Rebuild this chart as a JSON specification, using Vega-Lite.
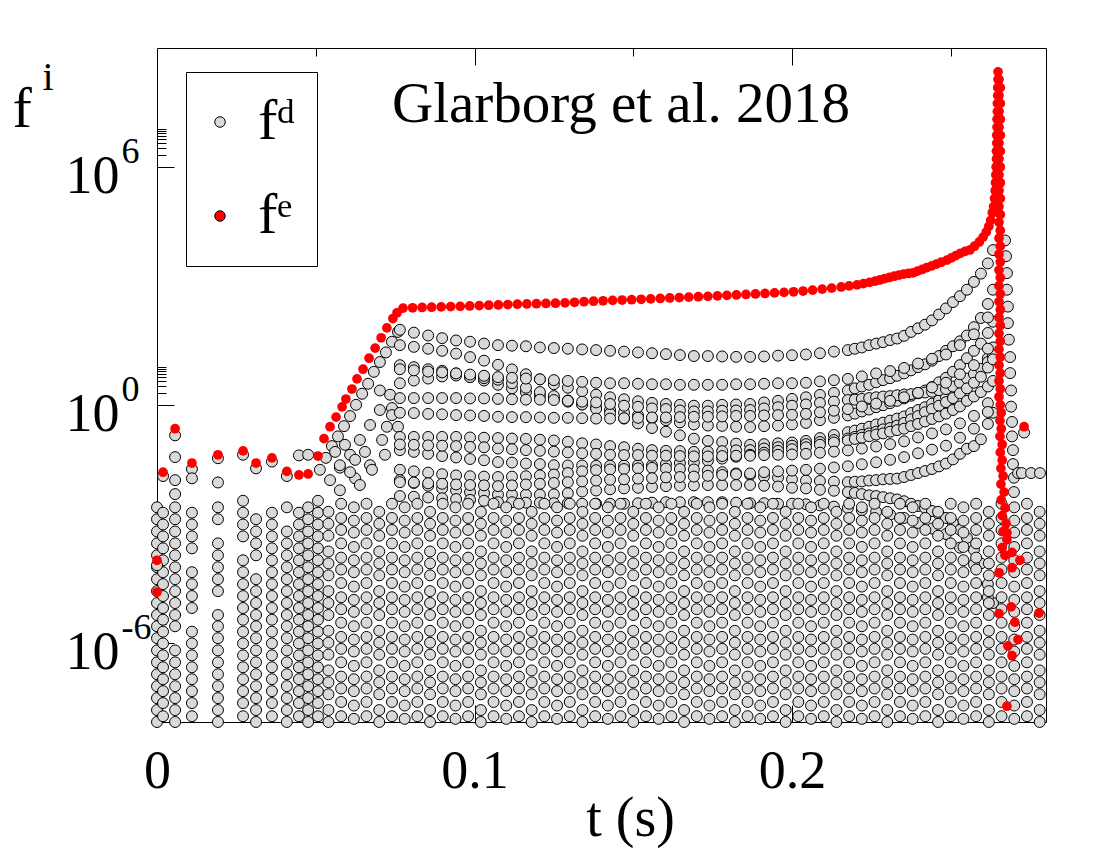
{
"$schema":"https://vega.github.io/schema/vega-lite/v6.json",
"autosize":"none",
"padding":{"left":157,"top":48,"right":54,"bottom":128},
"width":889,
"height":674,
"background":"white",
"config":{"view":{"stroke":"black","strokeWidth":1},"font":"Liberation Serif"},
"title":{"text":"Glarborg et al. 2018","anchor":"start","orient":"top","frame":"group","offset":0,"dx":235,"dy":131,"baseline":"alphabetic","fontSize":57,"fontWeight":"normal","font":"Liberation Serif","color":"black"},
"datasets":{
"e":[
{"t":0,"f":1.2e-4},{"t":0,"f":1.9e-5},{"t":0.0019,"f":0.02},{"t":0.0057,"f":0.25},{"t":0.011,"f":0.034},{"t":0.0192,"f":0.055},{"t":0.0271,"f":0.069},{"t":0.0312,"f":0.034},{"t":0.0362,"f":0.046},{"t":0.0409,"f":0.021},{"t":0.0447,"f":0.017},{"t":0.0476,"f":0.018},{"t":0.0507,"f":0.051},{"t":0.0526,"f":0.14},{"t":0.0545,"f":0.28},{"t":0.0564,"f":0.49},{"t":0.0583,"f":0.89},{"t":0.0595,"f":1.4},{"t":0.0614,"f":2.5},{"t":0.063,"f":4.5},{"t":0.0649,"f":7.9},{"t":0.0668,"f":15},{"t":0.0687,"f":27},{"t":0.0706,"f":49},{"t":0.0724,"f":87},{"t":0.0743,"f":150},{"t":0.0756,"f":210},{"t":0.0775,"f":275},
{"t":0.0805,"f":280},{"t":0.0835,"f":285},{"t":0.0865,"f":290},{"t":0.0895,"f":295},{"t":0.0925,"f":300},{"t":0.0955,"f":305},{"t":0.0985,"f":312},{"t":0.1015,"f":318},{"t":0.1045,"f":325},{"t":0.1075,"f":330},{"t":0.1105,"f":338},{"t":0.1135,"f":345},{"t":0.1165,"f":350},{"t":0.1195,"f":355},{"t":0.1225,"f":360},{"t":0.1255,"f":366},{"t":0.1285,"f":372},{"t":0.1315,"f":385},{"t":0.1345,"f":398},{"t":0.1375,"f":410},{"t":0.1405,"f":420},{"t":0.1435,"f":430},{"t":0.1465,"f":440},{"t":0.1495,"f":447},{"t":0.1525,"f":460},{"t":0.1555,"f":470},{"t":0.1585,"f":482},{"t":0.1615,"f":495},{"t":0.1645,"f":505},{"t":0.1675,"f":520},{"t":0.1705,"f":533},{"t":0.1735,"f":545},{"t":0.1765,"f":560},{"t":0.1795,"f":575},{"t":0.1825,"f":590},{"t":0.1855,"f":608},{"t":0.1885,"f":625},{"t":0.1915,"f":645},{"t":0.1945,"f":665},{"t":0.1975,"f":685},{"t":0.2005,"f":710},{"t":0.2035,"f":740},{"t":0.2065,"f":780},{"t":0.2095,"f":830},{"t":0.2125,"f":880},{"t":0.2155,"f":940},{"t":0.218,"f":1000},{"t":0.2205,"f":1060},{"t":0.2225,"f":1140},{"t":0.2245,"f":1230},{"t":0.2262,"f":1320},{"t":0.2277,"f":1413},{"t":0.2292,"f":1520},{"t":0.2307,"f":1630},{"t":0.2322,"f":1750},{"t":0.2337,"f":1870},{"t":0.2352,"f":1980},{"t":0.2367,"f":2060},{"t":0.2381,"f":2140},{"t":0.2395,"f":2350},{"t":0.241,"f":2600},{"t":0.2425,"f":2900},{"t":0.244,"f":3200},{"t":0.2455,"f":3550},{"t":0.247,"f":3950},{"t":0.2488,"f":4470},{"t":0.2502,"f":5100},{"t":0.2516,"f":5800},{"t":0.253,"f":6600},{"t":0.2545,"f":7400},{"t":0.2561,"f":8130},{"t":0.2575,"f":10000},{"t":0.259,"f":12800},{"t":0.2602,"f":17000},{"t":0.2612,"f":23000},{"t":0.262,"f":32000},{"t":0.2626,"f":45000},{"t":0.2631,"f":70000},{"t":0.2635,"f":100000},{"t":0.2638,"f":160000},{"t":0.264,"f":250000},{"t":0.2641,"f":400000},{"t":0.2642,"f":630000},{"t":0.2643,"f":1e6},{"t":0.2644,"f":1.6e6},{"t":0.2644,"f":2.5e6},{"t":0.2645,"f":4e6},{"t":0.2645,"f":6.3e6},{"t":0.2646,"f":1e7},{"t":0.2646,"f":1.6e7},{"t":0.2647,"f":2.5e7},{"t":0.2647,"f":4e7},{"t":0.2648,"f":6.3e7},{"t":0.2648,"f":1e8},{"t":0.2649,"f":1.6e8},{"t":0.2649,"f":2.5e8},
{"t":0.2652,"f":1.6e8},{"t":0.2656,"f":1e8},{"t":0.2652,"f":6.3e7},{"t":0.2656,"f":4e7},{"t":0.2652,"f":2.5e7},{"t":0.2656,"f":1.6e7},{"t":0.2652,"f":1e7},{"t":0.2656,"f":6.3e6},{"t":0.2652,"f":4e6},{"t":0.2656,"f":2.5e6},{"t":0.2652,"f":1.6e6},{"t":0.2656,"f":1e6},{"t":0.2652,"f":6.3e5},{"t":0.2656,"f":4e5},{"t":0.2652,"f":2.5e5},{"t":0.2656,"f":1.6e5},{"t":0.2652,"f":1e5},{"t":0.2656,"f":6.3e4},{"t":0.2652,"f":4e4},{"t":0.2656,"f":2.5e4},{"t":0.2652,"f":1.6e4},{"t":0.2656,"f":1e4},{"t":0.2652,"f":6300},{"t":0.2656,"f":4000},{"t":0.2652,"f":2500},{"t":0.2656,"f":1600},{"t":0.2652,"f":1000},{"t":0.2656,"f":630},{"t":0.2652,"f":400},{"t":0.2656,"f":250},{"t":0.2652,"f":160},{"t":0.2656,"f":100},{"t":0.2652,"f":63},{"t":0.2656,"f":40},{"t":0.2652,"f":25},{"t":0.2656,"f":16},{"t":0.2652,"f":10},{"t":0.2656,"f":6.3},{"t":0.2652,"f":4},{"t":0.2656,"f":2.5},{"t":0.2652,"f":1.6},{"t":0.2656,"f":1},{"t":0.2659,"f":0.63},{"t":0.2655,"f":0.4},{"t":0.2659,"f":0.25},{"t":0.2655,"f":0.16},{"t":0.2662,"f":0.1},{"t":0.2656,"f":0.063},{"t":0.2662,"f":0.04},{"t":0.2658,"f":0.025},{"t":0.2665,"f":0.016},{"t":0.2658,"f":0.01},{"t":0.2668,"f":0.0063},{"t":0.2659,"f":0.004},{"t":0.2671,"f":0.0025},{"t":0.2662,"f":0.0016},{"t":0.2674,"f":0.001},{"t":0.2665,"f":6.3e-4},{"t":0.2677,"f":4e-4},{"t":0.2662,"f":2.5e-4},{"t":0.2671,"f":1.6e-4},
{"t":0.2677,"f":5.9e-4},{"t":0.2693,"f":1.9e-4},{"t":0.2718,"f":1.2e-4},{"t":0.2693,"f":7.8e-5},{"t":0.2731,"f":0.28},{"t":0.2652,"f":5.8e-5},{"t":0.269,"f":8e-6},{"t":0.2652,"f":5.4e-6},{"t":0.2778,"f":5.6e-6},{"t":0.2702,"f":3.3e-6},{"t":0.2712,"f":1.2e-6},{"t":0.268,"f":8.3e-7},{"t":0.2693,"f":4.7e-7},{"t":0.2677,"f":2.5e-8}
],
"d":[
{"t":0,"f":1e-8},{"t":0,"f":2e-8},{"t":0,"f":4e-8},{"t":0,"f":8e-8},{"t":0,"f":1.6e-7},{"t":0,"f":3.2e-7},{"t":0,"f":6.4e-7},{"t":0,"f":1.3e-6},{"t":0,"f":2.6e-6},{"t":0,"f":5e-6},{"t":0,"f":1e-5},{"t":0,"f":2e-5},{"t":0,"f":4e-5},{"t":0,"f":8e-5},{"t":0,"f":1.6e-4},{"t":0,"f":3.2e-4},{"t":0,"f":6.4e-4},{"t":0,"f":1.3e-3},{"t":0,"f":2.6e-3},
{"t":0.0019,"f":1.4e-8},{"t":0.0019,"f":3e-8},{"t":0.0019,"f":6e-8},{"t":0.0019,"f":1.2e-7},{"t":0.0019,"f":2.4e-7},{"t":0.0019,"f":4.8e-7},{"t":0.0019,"f":9.6e-7},{"t":0.0019,"f":1.9e-6},{"t":0.0019,"f":3.8e-6},{"t":0.0019,"f":7.5e-6},{"t":0.0019,"f":1.5e-5},{"t":0.0019,"f":3e-5},{"t":0.0019,"f":6e-5},{"t":0.0019,"f":1.2e-4},{"t":0.0019,"f":2.4e-4},{"t":0.0019,"f":4.8e-4},{"t":0.0019,"f":9.6e-4},{"t":0.0019,"f":1.9e-3},
{"t":0.0057,"f":1e-8},{"t":0.0057,"f":2e-8},{"t":0.0057,"f":4e-8},{"t":0.0057,"f":8e-8},{"t":0.0057,"f":1.6e-7},{"t":0.0057,"f":3.2e-7},{"t":0.0057,"f":6.4e-7},{"t":0.0057,"f":2.6e-6},{"t":0.0057,"f":5e-6},{"t":0.0057,"f":1e-5},{"t":0.0057,"f":2e-5},{"t":0.0057,"f":4e-5},{"t":0.0057,"f":8e-5},{"t":0.0057,"f":1.6e-4},{"t":0.0057,"f":3.2e-4},{"t":0.0057,"f":6.4e-4},{"t":0.0057,"f":1.3e-3},{"t":0.0057,"f":2.6e-3},
{"t":0.011,"f":1.4e-8},{"t":0.011,"f":3e-8},{"t":0.011,"f":6e-8},{"t":0.011,"f":1.2e-7},{"t":0.011,"f":2.4e-7},{"t":0.011,"f":4.8e-7},{"t":0.011,"f":9.6e-7},{"t":0.011,"f":1.9e-6},{"t":0.011,"f":7.5e-6},{"t":0.011,"f":1.5e-5},{"t":0.011,"f":3e-5},{"t":0.011,"f":6e-5},{"t":0.011,"f":2.4e-4},{"t":0.011,"f":4.8e-4},{"t":0.011,"f":9.6e-4},{"t":0.011,"f":1.9e-3},
{"t":0.0192,"f":1e-8},{"t":0.0192,"f":2e-8},{"t":0.0192,"f":4e-8},{"t":0.0192,"f":8e-8},{"t":0.0192,"f":1.6e-7},{"t":0.0192,"f":3.2e-7},{"t":0.0192,"f":6.4e-7},{"t":0.0192,"f":1.3e-6},{"t":0.0192,"f":2.6e-6},{"t":0.0192,"f":5e-6},{"t":0.0192,"f":2e-5},{"t":0.0192,"f":4e-5},{"t":0.0192,"f":8e-5},{"t":0.0192,"f":1.6e-4},{"t":0.0192,"f":3.2e-4},{"t":0.0192,"f":1.3e-3},{"t":0.0192,"f":2.6e-3},
{"t":0.0271,"f":1.4e-8},{"t":0.0271,"f":3e-8},{"t":0.0271,"f":6e-8},{"t":0.0271,"f":1.2e-7},{"t":0.0271,"f":2.4e-7},{"t":0.0271,"f":4.8e-7},{"t":0.0271,"f":9.6e-7},{"t":0.0271,"f":1.9e-6},{"t":0.0271,"f":3.8e-6},{"t":0.0271,"f":7.5e-6},{"t":0.0271,"f":1.5e-5},{"t":0.0271,"f":3e-5},{"t":0.0271,"f":6e-5},{"t":0.0271,"f":1.2e-4},{"t":0.0271,"f":4.8e-4},{"t":0.0271,"f":9.6e-4},{"t":0.0271,"f":1.9e-3},{"t":0.0271,"f":3.8e-3},
{"t":0.0312,"f":1e-8},{"t":0.0312,"f":2e-8},{"t":0.0312,"f":4e-8},{"t":0.0312,"f":8e-8},{"t":0.0312,"f":1.6e-7},{"t":0.0312,"f":3.2e-7},{"t":0.0312,"f":6.4e-7},{"t":0.0312,"f":1.3e-6},{"t":0.0312,"f":2.6e-6},{"t":0.0312,"f":5e-6},{"t":0.0312,"f":1e-5},{"t":0.0312,"f":2e-5},{"t":0.0312,"f":4e-5},{"t":0.0312,"f":1.6e-4},{"t":0.0312,"f":3.2e-4},{"t":0.0312,"f":6.4e-4},{"t":0.0312,"f":1.3e-3},
{"t":0.0362,"f":1.4e-8},{"t":0.0362,"f":3e-8},{"t":0.0362,"f":6e-8},{"t":0.0362,"f":1.2e-7},{"t":0.0362,"f":2.4e-7},{"t":0.0362,"f":4.8e-7},{"t":0.0362,"f":9.6e-7},{"t":0.0362,"f":1.9e-6},{"t":0.0362,"f":3.8e-6},{"t":0.0362,"f":7.5e-6},{"t":0.0362,"f":1.5e-5},{"t":0.0362,"f":3e-5},{"t":0.0362,"f":6e-5},{"t":0.0362,"f":1.2e-4},{"t":0.0362,"f":2.4e-4},{"t":0.0362,"f":4.8e-4},{"t":0.0362,"f":9.6e-4},{"t":0.0362,"f":1.9e-3},
{"t":0.0409,"f":1e-8},{"t":0.0409,"f":2e-8},{"t":0.0409,"f":4e-8},{"t":0.0409,"f":8e-8},{"t":0.0409,"f":1.6e-7},{"t":0.0409,"f":3.2e-7},{"t":0.0409,"f":6.4e-7},{"t":0.0409,"f":1.3e-6},{"t":0.0409,"f":2.6e-6},{"t":0.0409,"f":5e-6},{"t":0.0409,"f":1e-5},{"t":0.0409,"f":2e-5},{"t":0.0409,"f":4e-5},{"t":0.0409,"f":8e-5},{"t":0.0409,"f":1.6e-4},{"t":0.0409,"f":3.2e-4},{"t":0.0409,"f":6.4e-4},{"t":0.0409,"f":2.6e-3},
{"t":0.0447,"f":1.4e-8},{"t":0.0447,"f":3e-8},{"t":0.0447,"f":6e-8},{"t":0.0447,"f":1.2e-7},{"t":0.0447,"f":2.4e-7},{"t":0.0447,"f":4.8e-7},{"t":0.0447,"f":9.6e-7},{"t":0.0447,"f":1.9e-6},{"t":0.0447,"f":3.8e-6},{"t":0.0447,"f":7.5e-6},{"t":0.0447,"f":1.5e-5},{"t":0.0447,"f":3e-5},{"t":0.0447,"f":6e-5},{"t":0.0447,"f":1.2e-4},{"t":0.0447,"f":2.4e-4},{"t":0.0447,"f":4.8e-4},{"t":0.0447,"f":9.6e-4},{"t":0.0447,"f":1.9e-3},
{"t":0.0476,"f":1e-8},{"t":0.0476,"f":2e-8},{"t":0.0476,"f":4e-8},{"t":0.0476,"f":8e-8},{"t":0.0476,"f":1.6e-7},{"t":0.0476,"f":3.2e-7},{"t":0.0476,"f":6.4e-7},{"t":0.0476,"f":1.3e-6},{"t":0.0476,"f":2.6e-6},{"t":0.0476,"f":5e-6},{"t":0.0476,"f":1e-5},{"t":0.0476,"f":2e-5},{"t":0.0476,"f":4e-5},{"t":0.0476,"f":8e-5},{"t":0.0476,"f":1.6e-4},{"t":0.0476,"f":3.2e-4},{"t":0.0476,"f":6.4e-4},{"t":0.0476,"f":1.3e-3},{"t":0.0476,"f":2.6e-3},
{"t":0.0507,"f":1.4e-8},{"t":0.0507,"f":3e-8},{"t":0.0507,"f":6e-8},{"t":0.0507,"f":1.2e-7},{"t":0.0507,"f":2.4e-7},{"t":0.0507,"f":4.8e-7},{"t":0.0507,"f":9.6e-7},{"t":0.0507,"f":1.9e-6},{"t":0.0507,"f":3.8e-6},{"t":0.0507,"f":7.5e-6},{"t":0.0507,"f":1.5e-5},{"t":0.0507,"f":3e-5},{"t":0.0507,"f":6e-5},{"t":0.0507,"f":1.2e-4},{"t":0.0507,"f":2.4e-4},{"t":0.0507,"f":4.8e-4},{"t":0.0507,"f":9.6e-4},{"t":0.0507,"f":1.9e-3},{"t":0.0507,"f":3.8e-3},
{"t":0.0057,"f":0.17},{"t":0.0057,"f":0.048},{"t":0.0057,"f":0.0126},{"t":0.0057,"f":0.0056},{"t":0.011,"f":0.024},{"t":0.011,"f":0.014},{"t":0.0192,"f":0.011},{"t":0.0192,"f":0.045},{"t":0.0271,"f":0.055},{"t":0.0312,"f":0.025},{"t":0.0362,"f":0.037},{"t":0.0019,"f":0.016},{"t":0.0447,"f":0.053},{"t":0.0476,"f":0.055},{"t":0.0409,"f":0.016},{"t":0,"f":9e-5},
{"t":0.0513,"f":0.023},{"t":0.0532,"f":0.046},{"t":0.0551,"f":0.091},{"t":0.057,"f":0.16},{"t":0.0589,"f":0.29},{"t":0.0608,"f":0.52},{"t":0.0627,"f":1.0},{"t":0.0646,"f":1.9},{"t":0.0665,"f":3.4},{"t":0.0683,"f":6.8},{"t":0.0702,"f":12},{"t":0.0721,"f":21},{"t":0.074,"f":39},{"t":0.0759,"f":69},
{"t":0.0545,"f":0.0126},{"t":0.0576,"f":0.026},{"t":0.0608,"f":0.055},{"t":0.0639,"f":0.13},{"t":0.0671,"f":0.31},{"t":0.0702,"f":0.74},{"t":0.0734,"f":1.8},
{"t":0.0576,"f":0.007},{"t":0.0624,"f":0.014},{"t":0.0671,"f":0.03},{"t":0.0718,"f":0.055},
{"t":0.0724,"f":0.28},{"t":0.0759,"f":0.28},{"t":0.074,"f":0.83},{"t":0.074,"f":0.55},{"t":0.0702,"f":2.3},
{"t":0.0561,"f":0.065},{"t":0.0592,"f":0.098},{"t":0.0576,"f":0.03},{"t":0.0608,"f":0.02},{"t":0.0624,"f":0.041},{"t":0.0655,"f":0.065},{"t":0.0639,"f":0.0095},{"t":0.0677,"f":0.023},{"t":0.0709,"f":0.13},
{"t":0.0765,"f":78},{"t":0.0809,"f":66},{"t":0.0854,"f":56},{"t":0.0898,"f":48},{"t":0.0942,"f":42},{"t":0.0986,"f":39},{"t":0.103,"f":35},{"t":0.1074,"f":32},{"t":0.1118,"f":31},{"t":0.1162,"f":30},{"t":0.1206,"f":28},{"t":0.125,"f":27},{"t":0.1294,"f":26},{"t":0.1339,"f":25},{"t":0.1383,"f":24},{"t":0.1427,"f":23},{"t":0.1471,"f":22},{"t":0.1515,"f":21},{"t":0.1559,"f":20},{"t":0.1603,"f":19},{"t":0.1647,"f":18},{"t":0.1691,"f":17},{"t":0.1735,"f":17},{"t":0.178,"f":16.6},{"t":0.1824,"f":16.2},{"t":0.1868,"f":16.2},{"t":0.1912,"f":16.6},{"t":0.1956,"f":17.4},{"t":0.2,"f":17.8},{"t":0.2044,"f":18.6},{"t":0.2088,"f":20},{"t":0.2132,"f":22},{"t":0.2176,"f":24},{"t":0.2198,"f":26},{"t":0.222,"f":28},{"t":0.2243,"f":32},{"t":0.2265,"f":35},{"t":0.2287,"f":38},{"t":0.2309,"f":43},{"t":0.2331,"f":47},{"t":0.2353,"f":55},{"t":0.2375,"f":69},{"t":0.2397,"f":85},{"t":0.2419,"f":105},{"t":0.2441,"f":135},{"t":0.2463,"f":190},{"t":0.2485,"f":270},{"t":0.2507,"f":390},{"t":0.2529,"f":550},{"t":0.2551,"f":800},{"t":0.2573,"f":1260},{"t":0.2595,"f":2040},{"t":0.2617,"f":3700},{"t":0.2633,"f":8000},
{"t":0.0765,"f":32},{"t":0.0809,"f":29},{"t":0.0854,"f":26},{"t":0.0898,"f":23},{"t":0.0942,"f":19.5},{"t":0.0986,"f":16},{"t":0.103,"f":13},{"t":0.1074,"f":10.2},{"t":0.1118,"f":7.8},{"t":0.1162,"f":5.9},{"t":0.1206,"f":4.4},{"t":0.125,"f":3.3},{"t":0.1294,"f":2.7},{"t":0.1339,"f":2.2},{"t":0.1383,"f":1.8},{"t":0.1427,"f":1.55},{"t":0.1471,"f":1.38},{"t":0.1515,"f":1.23},{"t":0.1559,"f":1.12},{"t":0.1603,"f":1.05},{"t":0.1647,"f":1.0},{"t":0.1691,"f":0.95},{"t":0.1735,"f":0.95},{"t":0.178,"f":1.0},{"t":0.1824,"f":1.02},{"t":0.1868,"f":1.05},{"t":0.1912,"f":1.15},{"t":0.1956,"f":1.26},{"t":0.2,"f":1.41},{"t":0.2044,"f":1.55},{"t":0.2088,"f":1.78},{"t":0.2132,"f":2.0},{"t":0.2176,"f":2.3},{"t":0.2198,"f":2.6},{"t":0.222,"f":2.9},{"t":0.2243,"f":3.2},{"t":0.2265,"f":3.7},{"t":0.2287,"f":4.2},{"t":0.2309,"f":4.7},{"t":0.2331,"f":5.4},{"t":0.2353,"f":6.2},{"t":0.2375,"f":7.4},{"t":0.2397,"f":8.9},{"t":0.2419,"f":10.5},{"t":0.2441,"f":13},{"t":0.2463,"f":17},{"t":0.2485,"f":23},{"t":0.2507,"f":30},{"t":0.2529,"f":40},{"t":0.2551,"f":56},{"t":0.2573,"f":91},{"t":0.2595,"f":155},{"t":0.2617,"f":350},{"t":0.2633,"f":800},
{"t":0.0765,"f":10},{"t":0.0809,"f":8.9},{"t":0.0854,"f":7.9},{"t":0.0898,"f":7.2},{"t":0.0942,"f":6.2},{"t":0.0986,"f":5.0},{"t":0.103,"f":4.1},{"t":0.1074,"f":3.2},{"t":0.1118,"f":2.6},{"t":0.1162,"f":2.1},{"t":0.1206,"f":1.7},{"t":0.125,"f":1.41},{"t":0.1294,"f":1.2},{"t":0.1339,"f":1.02},{"t":0.1383,"f":0.87},{"t":0.1427,"f":0.74},{"t":0.1471,"f":0.63},{"t":0.1515,"f":0.54},{"t":0.1559,"f":0.46},{"t":0.1603,"f":0.41},{"t":0.1647,"f":0.36},{"t":0.1691,"f":0.32},{"t":0.1735,"f":0.3},{"t":0.178,"f":0.295},{"t":0.1824,"f":0.28},{"t":0.1868,"f":0.275},{"t":0.1912,"f":0.29},{"t":0.1956,"f":0.3},{"t":0.2,"f":0.32},{"t":0.2044,"f":0.35},{"t":0.2088,"f":0.41},{"t":0.2132,"f":0.47},{"t":0.2176,"f":0.54},{"t":0.2198,"f":0.6},{"t":0.222,"f":0.68},{"t":0.2243,"f":0.76},{"t":0.2265,"f":0.87},{"t":0.2287,"f":0.98},{"t":0.2309,"f":1.1},{"t":0.2331,"f":1.26},{"t":0.2353,"f":1.45},{"t":0.2375,"f":1.7},{"t":0.2397,"f":2.0},{"t":0.2419,"f":2.3},{"t":0.2441,"f":2.8},{"t":0.2463,"f":3.7},{"t":0.2485,"f":4.8},{"t":0.2507,"f":6.8},{"t":0.2529,"f":10},{"t":0.2551,"f":15},{"t":0.2573,"f":23},{"t":0.2595,"f":35},{"t":0.2617,"f":65},{"t":0.2633,"f":125},
{"t":0.0765,"f":3.5},{"t":0.0809,"f":4.1},{"t":0.0854,"f":4.6},{"t":0.0898,"f":5.2},{"t":0.0942,"f":5.5},{"t":0.0986,"f":5.0},{"t":0.103,"f":4.7},{"t":0.1074,"f":4.3},{"t":0.1118,"f":3.5},{"t":0.1162,"f":2.7},{"t":0.1206,"f":2.1},{"t":0.125,"f":1.66},{"t":0.1294,"f":1.29},{"t":0.1339,"f":1.02},{"t":0.1383,"f":0.79},{"t":0.1427,"f":0.6},{"t":0.1471,"f":0.45},{"t":0.1515,"f":0.34},{"t":0.1559,"f":0.26},{"t":0.1603,"f":0.21},{"t":0.1647,"f":0.17},{"t":0.1691,"f":0.14},{"t":0.1735,"f":0.123},{"t":0.178,"f":0.115},{"t":0.1824,"f":0.105},{"t":0.1868,"f":0.098},{"t":0.1912,"f":0.102},{"t":0.1956,"f":0.107},{"t":0.2,"f":0.112},{"t":0.2044,"f":0.123},{"t":0.2088,"f":0.145},{"t":0.2132,"f":0.174},{"t":0.2176,"f":0.204},{"t":0.2198,"f":0.224},{"t":0.222,"f":0.25},{"t":0.2243,"f":0.28},{"t":0.2265,"f":0.32},{"t":0.2287,"f":0.355},{"t":0.2309,"f":0.4},{"t":0.2331,"f":0.45},{"t":0.2353,"f":0.51},{"t":0.2375,"f":0.62},{"t":0.2397,"f":0.74},{"t":0.2419,"f":0.87},{"t":0.2441,"f":1.07},{"t":0.2463,"f":1.3},{"t":0.2485,"f":1.6},{"t":0.2507,"f":2.0},{"t":0.2529,"f":2.6},{"t":0.2551,"f":3.5},{"t":0.2573,"f":5.0},{"t":0.2595,"f":7.4},{"t":0.2617,"f":15},{"t":0.2633,"f":28},
{"t":0.0765,"f":1.48},{"t":0.0809,"f":1.48},{"t":0.0854,"f":1.48},{"t":0.0898,"f":1.48},{"t":0.0942,"f":1.48},{"t":0.0986,"f":1.45},{"t":0.103,"f":1.45},{"t":0.1074,"f":1.41},{"t":0.1118,"f":1.38},{"t":0.1162,"f":1.35},{"t":0.1206,"f":1.35},{"t":0.125,"f":1.32},{"t":0.1294,"f":1.26},{"t":0.1339,"f":1.2},{"t":0.1383,"f":1.15},{"t":0.1427,"f":1.05},{"t":0.1471,"f":0.95},{"t":0.1515,"f":0.89},{"t":0.1559,"f":0.81},{"t":0.1603,"f":0.78},{"t":0.1647,"f":0.72},{"t":0.1691,"f":0.68},{"t":0.1735,"f":0.68},{"t":0.178,"f":0.71},{"t":0.1824,"f":0.72},{"t":0.1868,"f":0.74},{"t":0.1912,"f":0.81},{"t":0.1956,"f":0.87},{"t":0.2,"f":0.95},{"t":0.2044,"f":1.02},{"t":0.2088,"f":1.12},{"t":0.2132,"f":1.2},{"t":0.2176,"f":1.32},{"t":0.2198,"f":1.35},{"t":0.222,"f":1.41},{"t":0.2243,"f":1.48},{"t":0.2265,"f":1.55},{"t":0.2287,"f":1.62},{"t":0.2309,"f":1.66},{"t":0.2331,"f":1.74},{"t":0.2353,"f":1.82},{"t":0.2375,"f":1.86},{"t":0.2397,"f":1.95},{"t":0.2419,"f":2.04},{"t":0.2441,"f":2.14},{"t":0.2463,"f":2.34},{"t":0.2485,"f":2.5},{"t":0.2507,"f":2.9},{"t":0.2529,"f":3.6},{"t":0.2551,"f":4.6},{"t":0.2573,"f":6.0},{"t":0.2595,"f":8.1},{"t":0.2617,"f":12},{"t":0.2633,"f":18},
{"t":0.0765,"f":0.155},{"t":0.0809,"f":0.155},{"t":0.0854,"f":0.155},{"t":0.0898,"f":0.155},{"t":0.0942,"f":0.155},{"t":0.0986,"f":0.15},{"t":0.103,"f":0.148},{"t":0.1074,"f":0.145},{"t":0.1118,"f":0.141},{"t":0.1162,"f":0.138},{"t":0.1206,"f":0.132},{"t":0.125,"f":0.126},{"t":0.1294,"f":0.117},{"t":0.1339,"f":0.107},{"t":0.1383,"f":0.1},{"t":0.1427,"f":0.091},{"t":0.1471,"f":0.085},{"t":0.1515,"f":0.078},{"t":0.1559,"f":0.072},{"t":0.1603,"f":0.069},{"t":0.1647,"f":0.068},{"t":0.1691,"f":0.065},{"t":0.1735,"f":0.066},{"t":0.178,"f":0.068},{"t":0.1824,"f":0.071},{"t":0.1868,"f":0.072},{"t":0.1912,"f":0.079},{"t":0.1956,"f":0.085},{"t":0.2,"f":0.093},{"t":0.2044,"f":0.102},{"t":0.2088,"f":0.115},{"t":0.2132,"f":0.129},{"t":0.2176,"f":0.141},{"t":0.2198,"f":0.155},{"t":0.222,"f":0.174},{"t":0.2243,"f":0.19},{"t":0.2265,"f":0.21},{"t":0.2287,"f":0.24},{"t":0.2309,"f":0.26},{"t":0.2331,"f":0.3},{"t":0.2353,"f":0.35},{"t":0.2375,"f":0.43},{"t":0.2397,"f":0.52},{"t":0.2419,"f":0.65},{"t":0.2441,"f":0.78},{"t":0.2463,"f":0.95},{"t":0.2485,"f":1.17},{"t":0.2507,"f":1.48},{"t":0.2529,"f":1.95},{"t":0.2551,"f":2.6},{"t":0.2573,"f":3.6},{"t":0.2595,"f":5.1},{"t":0.2617,"f":8.7},{"t":0.2633,"f":14},
{"t":0.0765,"f":0.072},{"t":0.0809,"f":0.065},{"t":0.0854,"f":0.058},{"t":0.0898,"f":0.051},{"t":0.0942,"f":0.047},{"t":0.0986,"f":0.043},{"t":0.103,"f":0.04},{"t":0.1074,"f":0.036},{"t":0.1118,"f":0.035},{"t":0.1162,"f":0.033},{"t":0.1206,"f":0.032},{"t":0.125,"f":0.03},{"t":0.1294,"f":0.0295},{"t":0.1339,"f":0.0295},{"t":0.1383,"f":0.029},{"t":0.1427,"f":0.029},{"t":0.1471,"f":0.0295},{"t":0.1515,"f":0.03},{"t":0.1559,"f":0.03},{"t":0.1603,"f":0.032},{"t":0.1647,"f":0.034},{"t":0.1691,"f":0.035},{"t":0.1735,"f":0.039},{"t":0.178,"f":0.044},{"t":0.1824,"f":0.049},{"t":0.1868,"f":0.055},{"t":0.1912,"f":0.062},{"t":0.1956,"f":0.069},{"t":0.2,"f":0.076},{"t":0.2044,"f":0.085},{"t":0.2088,"f":0.098},{"t":0.2132,"f":0.112},{"t":0.2176,"f":0.126},{"t":0.2198,"f":0.138},{"t":0.222,"f":0.148},{"t":0.2243,"f":0.162},{"t":0.2265,"f":0.178},{"t":0.2287,"f":0.19},{"t":0.2309,"f":0.21},{"t":0.2331,"f":0.23},{"t":0.2353,"f":0.25},{"t":0.2375,"f":0.29},{"t":0.2397,"f":0.33},{"t":0.2419,"f":0.38},{"t":0.2441,"f":0.44},{"t":0.2463,"f":0.51},{"t":0.2485,"f":0.6},{"t":0.2507,"f":0.74},{"t":0.2529,"f":0.91},{"t":0.2551,"f":1.26},{"t":0.2573,"f":1.62},{"t":0.2595,"f":2.1},{"t":0.2617,"f":2.9},{"t":0.2633,"f":4.0},
{"t":0.0765,"f":0.023},{"t":0.0809,"f":0.021},{"t":0.0854,"f":0.0195},{"t":0.0898,"f":0.0178},{"t":0.0942,"f":0.0166},{"t":0.0986,"f":0.0158},{"t":0.103,"f":0.0155},{"t":0.1074,"f":0.0151},{"t":0.1118,"f":0.0155},{"t":0.1162,"f":0.0158},{"t":0.1206,"f":0.0166},{"t":0.125,"f":0.0174},{"t":0.1294,"f":0.019},{"t":0.1339,"f":0.021},{"t":0.1383,"f":0.0224},{"t":0.1427,"f":0.0234},{"t":0.1471,"f":0.024},{"t":0.1515,"f":0.025},{"t":0.1559,"f":0.0257},{"t":0.1603,"f":0.0245},{"t":0.1647,"f":0.024},{"t":0.1691,"f":0.0234},{"t":0.1735,"f":0.0219},{"t":0.178,"f":0.02},{"t":0.1824,"f":0.0186},{"t":0.1868,"f":0.017},{"t":0.1912,"f":0.0155},{"t":0.1956,"f":0.0145},{"t":0.2,"f":0.0132},{"t":0.2044,"f":0.0123},{"t":0.2088,"f":0.012},{"t":0.2132,"f":0.0115},{"t":0.2176,"f":0.0112},{"t":0.2198,"f":0.0115},{"t":0.222,"f":0.0117},{"t":0.2243,"f":0.0123},{"t":0.2265,"f":0.0126},{"t":0.2287,"f":0.0132},{"t":0.2309,"f":0.0135},{"t":0.2331,"f":0.0138},{"t":0.2353,"f":0.0151},{"t":0.2375,"f":0.017},{"t":0.2397,"f":0.019},{"t":0.2419,"f":0.0214},{"t":0.2441,"f":0.024},{"t":0.2463,"f":0.028},{"t":0.2485,"f":0.033},{"t":0.2507,"f":0.042},{"t":0.2529,"f":0.058},{"t":0.2551,"f":0.078},{"t":0.2573,"f":0.091},{"t":0.2595,"f":0.135},{"t":0.2617,"f":0.33},{"t":0.2633,"f":0.63},
{"t":0.0765,"f":0.0126},{"t":0.0809,"f":0.0107},{"t":0.0854,"f":0.0091},{"t":0.0898,"f":0.0078},{"t":0.0942,"f":0.0069},{"t":0.0986,"f":0.0063},{"t":0.103,"f":0.0059},{"t":0.1074,"f":0.0054},{"t":0.1118,"f":0.0054},{"t":0.1162,"f":0.0054},{"t":0.1206,"f":0.0054},{"t":0.125,"f":0.0055},{"t":0.1294,"f":0.0059},{"t":0.1339,"f":0.0065},{"t":0.1383,"f":0.0069},{"t":0.1427,"f":0.0074},{"t":0.1471,"f":0.0078},{"t":0.1515,"f":0.0081},{"t":0.1559,"f":0.0085},{"t":0.1603,"f":0.0089},{"t":0.1647,"f":0.0091},{"t":0.1691,"f":0.0093},{"t":0.1735,"f":0.0095},{"t":0.178,"f":0.0095},{"t":0.1824,"f":0.0095},{"t":0.1868,"f":0.0095},{"t":0.1912,"f":0.0091},{"t":0.1956,"f":0.0087},{"t":0.2,"f":0.0081},{"t":0.2044,"f":0.0078},{"t":0.2088,"f":0.0072},{"t":0.2132,"f":0.0068},{"t":0.2176,"f":0.0063},{"t":0.2198,"f":0.006},{"t":0.222,"f":0.0056},{"t":0.2243,"f":0.0052},{"t":0.2265,"f":0.005},{"t":0.2287,"f":0.0047},{"t":0.2309,"f":0.0044},{"t":0.2331,"f":0.0041},{"t":0.2353,"f":0.0037},{"t":0.2375,"f":0.0032},{"t":0.2397,"f":0.0028},{"t":0.2419,"f":0.0025},{"t":0.2441,"f":0.0021},{"t":0.2463,"f":0.0017},{"t":0.2485,"f":0.0014},{"t":0.2507,"f":0.00105},{"t":0.2529,"f":7e-4},{"t":0.2551,"f":4.4e-4},{"t":0.2573,"f":2.2e-4},{"t":0.2595,"f":1e-4},{"t":0.2617,"f":3e-5},{"t":0.2633,"f":1e-5},
{"t":0.0765,"f":7.9},{"t":0.0809,"f":7.4},{"t":0.0854,"f":6.9},{"t":0.0898,"f":6.6},{"t":0.0942,"f":6.2},{"t":0.0986,"f":5.8},{"t":0.103,"f":5.4},{"t":0.1074,"f":5.0},{"t":0.1118,"f":4.8},{"t":0.1162,"f":4.6},{"t":0.1206,"f":4.4},{"t":0.125,"f":4.2},{"t":0.1294,"f":4.0},{"t":0.1339,"f":3.8},{"t":0.1383,"f":3.6},{"t":0.1427,"f":3.5},{"t":0.1471,"f":3.5},{"t":0.1515,"f":3.4},{"t":0.1559,"f":3.3},{"t":0.1603,"f":3.3},{"t":0.1647,"f":3.2},{"t":0.1691,"f":3.2},{"t":0.1735,"f":3.2},{"t":0.178,"f":3.2},{"t":0.1824,"f":3.3},{"t":0.1868,"f":3.3},{"t":0.1912,"f":3.4},{"t":0.1956,"f":3.5},{"t":0.2,"f":3.5},{"t":0.2044,"f":3.6},{"t":0.2088,"f":3.9},{"t":0.2132,"f":4.2},{"t":0.2176,"f":4.5},{"t":0.222,"f":5.2},{"t":0.2265,"f":6.2},{"t":0.2309,"f":7.1},{"t":0.2353,"f":8.5},{"t":0.2397,"f":11},{"t":0.2441,"f":14.5},{"t":0.2485,"f":18.6},{"t":0.2529,"f":32},{"t":0.2573,"f":60},{"t":0.2617,"f":160},
{"t":0.0765,"f":0.63},{"t":0.0809,"f":0.62},{"t":0.0854,"f":0.59},{"t":0.0898,"f":0.575},{"t":0.0942,"f":0.55},{"t":0.0986,"f":0.54},{"t":0.103,"f":0.525},{"t":0.1074,"f":0.5},{"t":0.1118,"f":0.49},{"t":0.1162,"f":0.49},{"t":0.1206,"f":0.48},{"t":0.125,"f":0.47},{"t":0.1294,"f":0.47},{"t":0.1339,"f":0.46},{"t":0.1383,"f":0.45},{"t":0.1427,"f":0.45},{"t":0.1471,"f":0.46},{"t":0.1515,"f":0.47},{"t":0.1559,"f":0.48},{"t":0.1603,"f":0.48},{"t":0.1647,"f":0.49},{"t":0.1691,"f":0.5},{"t":0.1735,"f":0.5},{"t":0.178,"f":0.51},{"t":0.1824,"f":0.525},{"t":0.1868,"f":0.525},{"t":0.1912,"f":0.54},{"t":0.1956,"f":0.55},{"t":0.2,"f":0.56},{"t":0.2044,"f":0.59},{"t":0.2088,"f":0.65},{"t":0.2132,"f":0.71},{"t":0.2176,"f":0.78},{"t":0.222,"f":0.91},{"t":0.2265,"f":1.07},{"t":0.2309,"f":1.26},{"t":0.2353,"f":1.55},{"t":0.2397,"f":2.0},{"t":0.2441,"f":2.75},{"t":0.2485,"f":3.6},{"t":0.2529,"f":5.9},{"t":0.2573,"f":10},{"t":0.2617,"f":26},
{"t":0.0765,"f":0.1},{"t":0.0809,"f":0.098},{"t":0.0854,"f":0.095},{"t":0.0898,"f":0.093},{"t":0.0942,"f":0.091},{"t":0.0986,"f":0.087},{"t":0.103,"f":0.085},{"t":0.1074,"f":0.079},{"t":0.1118,"f":0.076},{"t":0.1162,"f":0.072},{"t":0.1206,"f":0.069},{"t":0.125,"f":0.066},{"t":0.1294,"f":0.063},{"t":0.1339,"f":0.06},{"t":0.1383,"f":0.058},{"t":0.1427,"f":0.055},{"t":0.1471,"f":0.054},{"t":0.1515,"f":0.054},{"t":0.1559,"f":0.052},{"t":0.1603,"f":0.052},{"t":0.1647,"f":0.051},{"t":0.1691,"f":0.05},{"t":0.1735,"f":0.05},{"t":0.178,"f":0.051},{"t":0.1824,"f":0.052},{"t":0.1868,"f":0.052},{"t":0.1912,"f":0.054},{"t":0.1956,"f":0.055},{"t":0.2,"f":0.056},{"t":0.2044,"f":0.058},{"t":0.2088,"f":0.062},{"t":0.2132,"f":0.066},{"t":0.2176,"f":0.071},{"t":0.222,"f":0.079},{"t":0.2265,"f":0.089},{"t":0.2309,"f":0.102},{"t":0.2353,"f":0.12},{"t":0.2397,"f":0.15},{"t":0.2441,"f":0.19},{"t":0.2485,"f":0.24},{"t":0.2529,"f":0.34},{"t":0.2573,"f":0.525},{"t":0.2617,"f":1.1},
{"t":0.0765,"f":0.005},{"t":0.0809,"f":0.0048},{"t":0.0854,"f":0.0046},{"t":0.0898,"f":0.0044},{"t":0.0942,"f":0.0042},{"t":0.0986,"f":0.004},{"t":0.103,"f":0.0038},{"t":0.1074,"f":0.0035},{"t":0.1118,"f":0.0035},{"t":0.1162,"f":0.0034},{"t":0.1206,"f":0.0034},{"t":0.125,"f":0.0033},{"t":0.1294,"f":0.0033},{"t":0.1339,"f":0.0032},{"t":0.1383,"f":0.0032},{"t":0.1427,"f":0.0032},{"t":0.1471,"f":0.0032},{"t":0.1515,"f":0.0033},{"t":0.1559,"f":0.0034},{"t":0.1603,"f":0.0035},{"t":0.1647,"f":0.0035},{"t":0.1691,"f":0.0035},{"t":0.1735,"f":0.0035},{"t":0.178,"f":0.0035},{"t":0.1824,"f":0.0034},{"t":0.1868,"f":0.0033},{"t":0.1912,"f":0.0033},{"t":0.1956,"f":0.0032},{"t":0.2,"f":0.0032},{"t":0.2044,"f":0.0031},{"t":0.2088,"f":0.0029},{"t":0.2132,"f":0.0027},{"t":0.2176,"f":0.0025},{"t":0.222,"f":0.0022},{"t":0.2265,"f":0.002},{"t":0.2309,"f":0.0017},{"t":0.2353,"f":0.0014},{"t":0.2397,"f":0.00105},{"t":0.2441,"f":7.6e-4},{"t":0.2485,"f":5.5e-4},{"t":0.2529,"f":2.5e-4},{"t":0.2573,"f":9.5e-5},{"t":0.2617,"f":1.4e-5},
{"t":0.0765,"f":0.0112},{"t":0.0809,"f":0.011},{"t":0.0854,"f":0.0105},{"t":0.0898,"f":0.0102},{"t":0.0942,"f":0.0098},{"t":0.0986,"f":0.0095},{"t":0.103,"f":0.0093},{"t":0.1074,"f":0.0089},{"t":0.1118,"f":0.0093},{"t":0.1162,"f":0.0098},{"t":0.1206,"f":0.0102},{"t":0.125,"f":0.0107},{"t":0.1294,"f":0.0112},{"t":0.1339,"f":0.0117},{"t":0.1383,"f":0.0123},{"t":0.1427,"f":0.0129},{"t":0.1471,"f":0.0132},{"t":0.1515,"f":0.0138},{"t":0.1559,"f":0.0141},{"t":0.1603,"f":0.0148},{"t":0.1647,"f":0.0151},{"t":0.1691,"f":0.0155},{"t":0.1735,"f":0.0162},{"t":0.178,"f":0.017},{"t":0.1824,"f":0.0178},{"t":0.1868,"f":0.0186},{"t":0.1912,"f":0.02},{"t":0.1956,"f":0.021},{"t":0.2,"f":0.0219},{"t":0.2044,"f":0.0229},{"t":0.2088,"f":0.0245},{"t":0.2132,"f":0.0263},{"t":0.2176,"f":0.0282},{"t":0.222,"f":0.0316},{"t":0.2265,"f":0.0355},{"t":0.2309,"f":0.041},{"t":0.2353,"f":0.048},{"t":0.2397,"f":0.06},{"t":0.2441,"f":0.074},{"t":0.2485,"f":0.093},{"t":0.2529,"f":0.148},{"t":0.2573,"f":0.25},{"t":0.2617,"f":0.66},
{"t":0.2671,"f":14000},{"t":0.2674,"f":5600},{"t":0.2677,"f":2100},{"t":0.2677,"f":800},{"t":0.268,"f":300},{"t":0.268,"f":115},{"t":0.2683,"f":44},{"t":0.2687,"f":16},{"t":0.2687,"f":6.3},{"t":0.269,"f":2.3},{"t":0.269,"f":0.9},{"t":0.2693,"f":0.37},{"t":0.2693,"f":0.16},{"t":0.2696,"f":0.072},{"t":0.2696,"f":0.032},{"t":0.2699,"f":0.0145},{"t":0.2699,"f":0.0063},{"t":0.2712,"f":0.019},{"t":0.2724,"f":0.019},{"t":0.2753,"f":0.019},{"t":0.2781,"f":0.019},{"t":0.2731,"f":0.2},
{"t":0.054,"f":1e-8},{"t":0.054,"f":2e-8},{"t":0.054,"f":5e-8},{"t":0.054,"f":1e-7},{"t":0.054,"f":2e-7},{"t":0.054,"f":5e-7},{"t":0.054,"f":1e-6},{"t":0.054,"f":2e-6},{"t":0.054,"f":5e-6},{"t":0.054,"f":1e-5},{"t":0.054,"f":2e-5},{"t":0.054,"f":5e-5},{"t":0.054,"f":1e-4},{"t":0.054,"f":2e-4},{"t":0.054,"f":5e-4},{"t":0.054,"f":1e-3},{"t":0.054,"f":2e-3},
{"t":0.058,"f":1.4e-8},{"t":0.058,"f":3.2e-8},{"t":0.058,"f":7e-8},{"t":0.058,"f":1.4e-7},{"t":0.058,"f":3.2e-7},{"t":0.058,"f":7e-7},{"t":0.058,"f":1.4e-6},{"t":0.058,"f":3.2e-6},{"t":0.058,"f":7e-6},{"t":0.058,"f":1.4e-5},{"t":0.058,"f":3.2e-5},{"t":0.058,"f":7e-5},{"t":0.058,"f":1.4e-4},{"t":0.058,"f":3.2e-4},{"t":0.058,"f":7e-4},{"t":0.058,"f":1.4e-3},{"t":0.058,"f":3.2e-3},
{"t":0.062,"f":1.2e-8},{"t":0.062,"f":2.6e-8},{"t":0.062,"f":6e-8},{"t":0.062,"f":1.2e-7},{"t":0.062,"f":2.6e-7},{"t":0.062,"f":6e-7},{"t":0.062,"f":1.2e-6},{"t":0.062,"f":2.6e-6},{"t":0.062,"f":6e-6},{"t":0.062,"f":1.2e-5},{"t":0.062,"f":2.6e-5},{"t":0.062,"f":6e-5},{"t":0.062,"f":1.2e-4},{"t":0.062,"f":2.6e-4},{"t":0.062,"f":6e-4},{"t":0.062,"f":1.2e-3},{"t":0.062,"f":2.6e-3},
{"t":0.066,"f":1.4e-8},{"t":0.066,"f":3.2e-8},{"t":0.066,"f":7e-8},{"t":0.066,"f":1.4e-7},{"t":0.066,"f":3.2e-7},{"t":0.066,"f":7e-7},{"t":0.066,"f":1.4e-6},{"t":0.066,"f":3.2e-6},{"t":0.066,"f":7e-6},{"t":0.066,"f":1.4e-5},{"t":0.066,"f":3.2e-5},{"t":0.066,"f":7e-5},{"t":0.066,"f":1.4e-4},{"t":0.066,"f":3.2e-4},{"t":0.066,"f":7e-4},{"t":0.066,"f":1.4e-3},{"t":0.066,"f":3.2e-3},
{"t":0.07,"f":1e-8},{"t":0.07,"f":2e-8},{"t":0.07,"f":5e-8},{"t":0.07,"f":1e-7},{"t":0.07,"f":2e-7},{"t":0.07,"f":5e-7},{"t":0.07,"f":1e-6},{"t":0.07,"f":2e-6},{"t":0.07,"f":5e-6},{"t":0.07,"f":1e-5},{"t":0.07,"f":2e-5},{"t":0.07,"f":5e-5},{"t":0.07,"f":1e-4},{"t":0.07,"f":2e-4},{"t":0.07,"f":5e-4},{"t":0.07,"f":1e-3},{"t":0.07,"f":2e-3},
{"t":0.074,"f":1.4e-8},{"t":0.074,"f":3.2e-8},{"t":0.074,"f":7e-8},{"t":0.074,"f":1.4e-7},{"t":0.074,"f":3.2e-7},{"t":0.074,"f":7e-7},{"t":0.074,"f":1.4e-6},{"t":0.074,"f":3.2e-6},{"t":0.074,"f":7e-6},{"t":0.074,"f":1.4e-5},{"t":0.074,"f":3.2e-5},{"t":0.074,"f":7e-5},{"t":0.074,"f":1.4e-4},{"t":0.074,"f":3.2e-4},{"t":0.074,"f":7e-4},{"t":0.074,"f":1.4e-3},{"t":0.074,"f":3.2e-3},
{"t":0.078,"f":1.2e-8},{"t":0.078,"f":2.6e-8},{"t":0.078,"f":6e-8},{"t":0.078,"f":1.2e-7},{"t":0.078,"f":2.6e-7},{"t":0.078,"f":6e-7},{"t":0.078,"f":1.2e-6},{"t":0.078,"f":2.6e-6},{"t":0.078,"f":6e-6},{"t":0.078,"f":1.2e-5},{"t":0.078,"f":2.6e-5},{"t":0.078,"f":6e-5},{"t":0.078,"f":1.2e-4},{"t":0.078,"f":2.6e-4},{"t":0.078,"f":6e-4},{"t":0.078,"f":1.2e-3},{"t":0.078,"f":2.6e-3},
{"t":0.082,"f":1.4e-8},{"t":0.082,"f":3.2e-8},{"t":0.082,"f":7e-8},{"t":0.082,"f":1.4e-7},{"t":0.082,"f":3.2e-7},{"t":0.082,"f":7e-7},{"t":0.082,"f":1.4e-6},{"t":0.082,"f":3.2e-6},{"t":0.082,"f":7e-6},{"t":0.082,"f":1.4e-5},{"t":0.082,"f":3.2e-5},{"t":0.082,"f":7e-5},{"t":0.082,"f":1.4e-4},{"t":0.082,"f":3.2e-4},{"t":0.082,"f":7e-4},{"t":0.082,"f":1.4e-3},{"t":0.082,"f":3.2e-3},
{"t":0.086,"f":1e-8},{"t":0.086,"f":2e-8},{"t":0.086,"f":5e-8},{"t":0.086,"f":1e-7},{"t":0.086,"f":2e-7},{"t":0.086,"f":5e-7},{"t":0.086,"f":1e-6},{"t":0.086,"f":2e-6},{"t":0.086,"f":5e-6},{"t":0.086,"f":1e-5},{"t":0.086,"f":2e-5},{"t":0.086,"f":5e-5},{"t":0.086,"f":1e-4},{"t":0.086,"f":2e-4},{"t":0.086,"f":5e-4},{"t":0.086,"f":1e-3},{"t":0.086,"f":2e-3},
{"t":0.09,"f":1.4e-8},{"t":0.09,"f":3.2e-8},{"t":0.09,"f":7e-8},{"t":0.09,"f":1.4e-7},{"t":0.09,"f":3.2e-7},{"t":0.09,"f":7e-7},{"t":0.09,"f":1.4e-6},{"t":0.09,"f":3.2e-6},{"t":0.09,"f":7e-6},{"t":0.09,"f":1.4e-5},{"t":0.09,"f":3.2e-5},{"t":0.09,"f":7e-5},{"t":0.09,"f":1.4e-4},{"t":0.09,"f":3.2e-4},{"t":0.09,"f":7e-4},{"t":0.09,"f":1.4e-3},{"t":0.09,"f":3.2e-3},
{"t":0.094,"f":1.2e-8},{"t":0.094,"f":2.6e-8},{"t":0.094,"f":6e-8},{"t":0.094,"f":1.2e-7},{"t":0.094,"f":2.6e-7},{"t":0.094,"f":6e-7},{"t":0.094,"f":1.2e-6},{"t":0.094,"f":2.6e-6},{"t":0.094,"f":6e-6},{"t":0.094,"f":1.2e-5},{"t":0.094,"f":2.6e-5},{"t":0.094,"f":6e-5},{"t":0.094,"f":1.2e-4},{"t":0.094,"f":2.6e-4},{"t":0.094,"f":6e-4},{"t":0.094,"f":1.2e-3},{"t":0.094,"f":2.6e-3},
{"t":0.098,"f":1.4e-8},{"t":0.098,"f":3.2e-8},{"t":0.098,"f":7e-8},{"t":0.098,"f":1.4e-7},{"t":0.098,"f":3.2e-7},{"t":0.098,"f":7e-7},{"t":0.098,"f":1.4e-6},{"t":0.098,"f":3.2e-6},{"t":0.098,"f":7e-6},{"t":0.098,"f":1.4e-5},{"t":0.098,"f":3.2e-5},{"t":0.098,"f":7e-5},{"t":0.098,"f":1.4e-4},{"t":0.098,"f":3.2e-4},{"t":0.098,"f":7e-4},{"t":0.098,"f":1.4e-3},{"t":0.098,"f":3.2e-3},
{"t":0.102,"f":1e-8},{"t":0.102,"f":2e-8},{"t":0.102,"f":5e-8},{"t":0.102,"f":1e-7},{"t":0.102,"f":2e-7},{"t":0.102,"f":5e-7},{"t":0.102,"f":1e-6},{"t":0.102,"f":2e-6},{"t":0.102,"f":5e-6},{"t":0.102,"f":1e-5},{"t":0.102,"f":2e-5},{"t":0.102,"f":5e-5},{"t":0.102,"f":1e-4},{"t":0.102,"f":2e-4},{"t":0.102,"f":5e-4},{"t":0.102,"f":1e-3},{"t":0.102,"f":2e-3},
{"t":0.106,"f":1.4e-8},{"t":0.106,"f":3.2e-8},{"t":0.106,"f":7e-8},{"t":0.106,"f":1.4e-7},{"t":0.106,"f":3.2e-7},{"t":0.106,"f":7e-7},{"t":0.106,"f":1.4e-6},{"t":0.106,"f":3.2e-6},{"t":0.106,"f":7e-6},{"t":0.106,"f":1.4e-5},{"t":0.106,"f":3.2e-5},{"t":0.106,"f":7e-5},{"t":0.106,"f":1.4e-4},{"t":0.106,"f":3.2e-4},{"t":0.106,"f":7e-4},{"t":0.106,"f":1.4e-3},{"t":0.106,"f":3.2e-3},
{"t":0.11,"f":1.2e-8},{"t":0.11,"f":2.6e-8},{"t":0.11,"f":6e-8},{"t":0.11,"f":1.2e-7},{"t":0.11,"f":2.6e-7},{"t":0.11,"f":6e-7},{"t":0.11,"f":1.2e-6},{"t":0.11,"f":2.6e-6},{"t":0.11,"f":6e-6},{"t":0.11,"f":1.2e-5},{"t":0.11,"f":2.6e-5},{"t":0.11,"f":6e-5},{"t":0.11,"f":1.2e-4},{"t":0.11,"f":2.6e-4},{"t":0.11,"f":6e-4},{"t":0.11,"f":1.2e-3},{"t":0.11,"f":2.6e-3},
{"t":0.114,"f":1.4e-8},{"t":0.114,"f":3.2e-8},{"t":0.114,"f":7e-8},{"t":0.114,"f":1.4e-7},{"t":0.114,"f":3.2e-7},{"t":0.114,"f":7e-7},{"t":0.114,"f":1.4e-6},{"t":0.114,"f":3.2e-6},{"t":0.114,"f":7e-6},{"t":0.114,"f":1.4e-5},{"t":0.114,"f":3.2e-5},{"t":0.114,"f":7e-5},{"t":0.114,"f":1.4e-4},{"t":0.114,"f":3.2e-4},{"t":0.114,"f":7e-4},{"t":0.114,"f":1.4e-3},{"t":0.114,"f":3.2e-3},
{"t":0.118,"f":1e-8},{"t":0.118,"f":2e-8},{"t":0.118,"f":5e-8},{"t":0.118,"f":1e-7},{"t":0.118,"f":2e-7},{"t":0.118,"f":5e-7},{"t":0.118,"f":1e-6},{"t":0.118,"f":2e-6},{"t":0.118,"f":5e-6},{"t":0.118,"f":1e-5},{"t":0.118,"f":2e-5},{"t":0.118,"f":5e-5},{"t":0.118,"f":1e-4},{"t":0.118,"f":2e-4},{"t":0.118,"f":5e-4},{"t":0.118,"f":1e-3},{"t":0.118,"f":2e-3},
{"t":0.122,"f":1.4e-8},{"t":0.122,"f":3.2e-8},{"t":0.122,"f":7e-8},{"t":0.122,"f":1.4e-7},{"t":0.122,"f":3.2e-7},{"t":0.122,"f":7e-7},{"t":0.122,"f":1.4e-6},{"t":0.122,"f":3.2e-6},{"t":0.122,"f":7e-6},{"t":0.122,"f":1.4e-5},{"t":0.122,"f":3.2e-5},{"t":0.122,"f":7e-5},{"t":0.122,"f":1.4e-4},{"t":0.122,"f":3.2e-4},{"t":0.122,"f":7e-4},{"t":0.122,"f":1.4e-3},{"t":0.122,"f":3.2e-3},
{"t":0.126,"f":1.2e-8},{"t":0.126,"f":2.6e-8},{"t":0.126,"f":6e-8},{"t":0.126,"f":1.2e-7},{"t":0.126,"f":2.6e-7},{"t":0.126,"f":6e-7},{"t":0.126,"f":1.2e-6},{"t":0.126,"f":2.6e-6},{"t":0.126,"f":6e-6},{"t":0.126,"f":1.2e-5},{"t":0.126,"f":2.6e-5},{"t":0.126,"f":6e-5},{"t":0.126,"f":1.2e-4},{"t":0.126,"f":2.6e-4},{"t":0.126,"f":6e-4},{"t":0.126,"f":1.2e-3},{"t":0.126,"f":2.6e-3},
{"t":0.13,"f":1.4e-8},{"t":0.13,"f":3.2e-8},{"t":0.13,"f":7e-8},{"t":0.13,"f":1.4e-7},{"t":0.13,"f":3.2e-7},{"t":0.13,"f":7e-7},{"t":0.13,"f":1.4e-6},{"t":0.13,"f":3.2e-6},{"t":0.13,"f":7e-6},{"t":0.13,"f":1.4e-5},{"t":0.13,"f":3.2e-5},{"t":0.13,"f":7e-5},{"t":0.13,"f":1.4e-4},{"t":0.13,"f":3.2e-4},{"t":0.13,"f":7e-4},{"t":0.13,"f":1.4e-3},{"t":0.13,"f":3.2e-3},
{"t":0.134,"f":1e-8},{"t":0.134,"f":2e-8},{"t":0.134,"f":5e-8},{"t":0.134,"f":1e-7},{"t":0.134,"f":2e-7},{"t":0.134,"f":5e-7},{"t":0.134,"f":1e-6},{"t":0.134,"f":2e-6},{"t":0.134,"f":5e-6},{"t":0.134,"f":1e-5},{"t":0.134,"f":2e-5},{"t":0.134,"f":5e-5},{"t":0.134,"f":1e-4},{"t":0.134,"f":2e-4},{"t":0.134,"f":5e-4},{"t":0.134,"f":1e-3},{"t":0.134,"f":2e-3},
{"t":0.138,"f":1.4e-8},{"t":0.138,"f":3.2e-8},{"t":0.138,"f":7e-8},{"t":0.138,"f":1.4e-7},{"t":0.138,"f":3.2e-7},{"t":0.138,"f":7e-7},{"t":0.138,"f":1.4e-6},{"t":0.138,"f":3.2e-6},{"t":0.138,"f":7e-6},{"t":0.138,"f":1.4e-5},{"t":0.138,"f":3.2e-5},{"t":0.138,"f":7e-5},{"t":0.138,"f":1.4e-4},{"t":0.138,"f":3.2e-4},{"t":0.138,"f":7e-4},{"t":0.138,"f":1.4e-3},{"t":0.138,"f":3.2e-3},
{"t":0.142,"f":1.2e-8},{"t":0.142,"f":2.6e-8},{"t":0.142,"f":6e-8},{"t":0.142,"f":1.2e-7},{"t":0.142,"f":2.6e-7},{"t":0.142,"f":6e-7},{"t":0.142,"f":1.2e-6},{"t":0.142,"f":2.6e-6},{"t":0.142,"f":6e-6},{"t":0.142,"f":1.2e-5},{"t":0.142,"f":2.6e-5},{"t":0.142,"f":6e-5},{"t":0.142,"f":1.2e-4},{"t":0.142,"f":2.6e-4},{"t":0.142,"f":6e-4},{"t":0.142,"f":1.2e-3},{"t":0.142,"f":2.6e-3},
{"t":0.146,"f":1.4e-8},{"t":0.146,"f":3.2e-8},{"t":0.146,"f":7e-8},{"t":0.146,"f":1.4e-7},{"t":0.146,"f":3.2e-7},{"t":0.146,"f":7e-7},{"t":0.146,"f":1.4e-6},{"t":0.146,"f":3.2e-6},{"t":0.146,"f":7e-6},{"t":0.146,"f":1.4e-5},{"t":0.146,"f":3.2e-5},{"t":0.146,"f":7e-5},{"t":0.146,"f":1.4e-4},{"t":0.146,"f":3.2e-4},{"t":0.146,"f":7e-4},{"t":0.146,"f":1.4e-3},{"t":0.146,"f":3.2e-3},
{"t":0.15,"f":1e-8},{"t":0.15,"f":2e-8},{"t":0.15,"f":5e-8},{"t":0.15,"f":1e-7},{"t":0.15,"f":2e-7},{"t":0.15,"f":5e-7},{"t":0.15,"f":1e-6},{"t":0.15,"f":2e-6},{"t":0.15,"f":5e-6},{"t":0.15,"f":1e-5},{"t":0.15,"f":2e-5},{"t":0.15,"f":5e-5},{"t":0.15,"f":1e-4},{"t":0.15,"f":2e-4},{"t":0.15,"f":5e-4},{"t":0.15,"f":1e-3},{"t":0.15,"f":2e-3},
{"t":0.154,"f":1.4e-8},{"t":0.154,"f":3.2e-8},{"t":0.154,"f":7e-8},{"t":0.154,"f":1.4e-7},{"t":0.154,"f":3.2e-7},{"t":0.154,"f":7e-7},{"t":0.154,"f":1.4e-6},{"t":0.154,"f":3.2e-6},{"t":0.154,"f":7e-6},{"t":0.154,"f":1.4e-5},{"t":0.154,"f":3.2e-5},{"t":0.154,"f":7e-5},{"t":0.154,"f":1.4e-4},{"t":0.154,"f":3.2e-4},{"t":0.154,"f":7e-4},{"t":0.154,"f":1.4e-3},{"t":0.154,"f":3.2e-3},
{"t":0.158,"f":1.2e-8},{"t":0.158,"f":2.6e-8},{"t":0.158,"f":6e-8},{"t":0.158,"f":1.2e-7},{"t":0.158,"f":2.6e-7},{"t":0.158,"f":6e-7},{"t":0.158,"f":1.2e-6},{"t":0.158,"f":2.6e-6},{"t":0.158,"f":6e-6},{"t":0.158,"f":1.2e-5},{"t":0.158,"f":2.6e-5},{"t":0.158,"f":6e-5},{"t":0.158,"f":1.2e-4},{"t":0.158,"f":2.6e-4},{"t":0.158,"f":6e-4},{"t":0.158,"f":1.2e-3},{"t":0.158,"f":2.6e-3},
{"t":0.162,"f":1.4e-8},{"t":0.162,"f":3.2e-8},{"t":0.162,"f":7e-8},{"t":0.162,"f":1.4e-7},{"t":0.162,"f":3.2e-7},{"t":0.162,"f":7e-7},{"t":0.162,"f":1.4e-6},{"t":0.162,"f":3.2e-6},{"t":0.162,"f":7e-6},{"t":0.162,"f":1.4e-5},{"t":0.162,"f":3.2e-5},{"t":0.162,"f":7e-5},{"t":0.162,"f":1.4e-4},{"t":0.162,"f":3.2e-4},{"t":0.162,"f":7e-4},{"t":0.162,"f":1.4e-3},{"t":0.162,"f":3.2e-3},
{"t":0.166,"f":1e-8},{"t":0.166,"f":2e-8},{"t":0.166,"f":5e-8},{"t":0.166,"f":1e-7},{"t":0.166,"f":2e-7},{"t":0.166,"f":5e-7},{"t":0.166,"f":1e-6},{"t":0.166,"f":2e-6},{"t":0.166,"f":5e-6},{"t":0.166,"f":1e-5},{"t":0.166,"f":2e-5},{"t":0.166,"f":5e-5},{"t":0.166,"f":1e-4},{"t":0.166,"f":2e-4},{"t":0.166,"f":5e-4},{"t":0.166,"f":1e-3},{"t":0.166,"f":2e-3},
{"t":0.17,"f":1.4e-8},{"t":0.17,"f":3.2e-8},{"t":0.17,"f":7e-8},{"t":0.17,"f":1.4e-7},{"t":0.17,"f":3.2e-7},{"t":0.17,"f":7e-7},{"t":0.17,"f":1.4e-6},{"t":0.17,"f":3.2e-6},{"t":0.17,"f":7e-6},{"t":0.17,"f":1.4e-5},{"t":0.17,"f":3.2e-5},{"t":0.17,"f":7e-5},{"t":0.17,"f":1.4e-4},{"t":0.17,"f":3.2e-4},{"t":0.17,"f":7e-4},{"t":0.17,"f":1.4e-3},{"t":0.17,"f":3.2e-3},
{"t":0.174,"f":1.2e-8},{"t":0.174,"f":2.6e-8},{"t":0.174,"f":6e-8},{"t":0.174,"f":1.2e-7},{"t":0.174,"f":2.6e-7},{"t":0.174,"f":6e-7},{"t":0.174,"f":1.2e-6},{"t":0.174,"f":2.6e-6},{"t":0.174,"f":6e-6},{"t":0.174,"f":1.2e-5},{"t":0.174,"f":2.6e-5},{"t":0.174,"f":6e-5},{"t":0.174,"f":1.2e-4},{"t":0.174,"f":2.6e-4},{"t":0.174,"f":6e-4},{"t":0.174,"f":1.2e-3},{"t":0.174,"f":2.6e-3},
{"t":0.178,"f":1.4e-8},{"t":0.178,"f":3.2e-8},{"t":0.178,"f":7e-8},{"t":0.178,"f":1.4e-7},{"t":0.178,"f":3.2e-7},{"t":0.178,"f":7e-7},{"t":0.178,"f":1.4e-6},{"t":0.178,"f":3.2e-6},{"t":0.178,"f":7e-6},{"t":0.178,"f":1.4e-5},{"t":0.178,"f":3.2e-5},{"t":0.178,"f":7e-5},{"t":0.178,"f":1.4e-4},{"t":0.178,"f":3.2e-4},{"t":0.178,"f":7e-4},{"t":0.178,"f":1.4e-3},{"t":0.178,"f":3.2e-3},
{"t":0.182,"f":1e-8},{"t":0.182,"f":2e-8},{"t":0.182,"f":5e-8},{"t":0.182,"f":1e-7},{"t":0.182,"f":2e-7},{"t":0.182,"f":5e-7},{"t":0.182,"f":1e-6},{"t":0.182,"f":2e-6},{"t":0.182,"f":5e-6},{"t":0.182,"f":1e-5},{"t":0.182,"f":2e-5},{"t":0.182,"f":5e-5},{"t":0.182,"f":1e-4},{"t":0.182,"f":2e-4},{"t":0.182,"f":5e-4},{"t":0.182,"f":1e-3},{"t":0.182,"f":2e-3},
{"t":0.186,"f":1.4e-8},{"t":0.186,"f":3.2e-8},{"t":0.186,"f":7e-8},{"t":0.186,"f":1.4e-7},{"t":0.186,"f":3.2e-7},{"t":0.186,"f":7e-7},{"t":0.186,"f":1.4e-6},{"t":0.186,"f":3.2e-6},{"t":0.186,"f":7e-6},{"t":0.186,"f":1.4e-5},{"t":0.186,"f":3.2e-5},{"t":0.186,"f":7e-5},{"t":0.186,"f":1.4e-4},{"t":0.186,"f":3.2e-4},{"t":0.186,"f":7e-4},{"t":0.186,"f":1.4e-3},{"t":0.186,"f":3.2e-3},
{"t":0.19,"f":1.2e-8},{"t":0.19,"f":2.6e-8},{"t":0.19,"f":6e-8},{"t":0.19,"f":1.2e-7},{"t":0.19,"f":2.6e-7},{"t":0.19,"f":6e-7},{"t":0.19,"f":1.2e-6},{"t":0.19,"f":2.6e-6},{"t":0.19,"f":6e-6},{"t":0.19,"f":1.2e-5},{"t":0.19,"f":2.6e-5},{"t":0.19,"f":6e-5},{"t":0.19,"f":1.2e-4},{"t":0.19,"f":2.6e-4},{"t":0.19,"f":6e-4},{"t":0.19,"f":1.2e-3},{"t":0.19,"f":2.6e-3},
{"t":0.194,"f":1.4e-8},{"t":0.194,"f":3.2e-8},{"t":0.194,"f":7e-8},{"t":0.194,"f":1.4e-7},{"t":0.194,"f":3.2e-7},{"t":0.194,"f":7e-7},{"t":0.194,"f":1.4e-6},{"t":0.194,"f":3.2e-6},{"t":0.194,"f":7e-6},{"t":0.194,"f":1.4e-5},{"t":0.194,"f":3.2e-5},{"t":0.194,"f":7e-5},{"t":0.194,"f":1.4e-4},{"t":0.194,"f":3.2e-4},{"t":0.194,"f":7e-4},{"t":0.194,"f":1.4e-3},{"t":0.194,"f":3.2e-3},
{"t":0.198,"f":1e-8},{"t":0.198,"f":2e-8},{"t":0.198,"f":5e-8},{"t":0.198,"f":1e-7},{"t":0.198,"f":2e-7},{"t":0.198,"f":5e-7},{"t":0.198,"f":1e-6},{"t":0.198,"f":2e-6},{"t":0.198,"f":5e-6},{"t":0.198,"f":1e-5},{"t":0.198,"f":2e-5},{"t":0.198,"f":5e-5},{"t":0.198,"f":1e-4},{"t":0.198,"f":2e-4},{"t":0.198,"f":5e-4},{"t":0.198,"f":1e-3},{"t":0.198,"f":2e-3},
{"t":0.202,"f":1.4e-8},{"t":0.202,"f":3.2e-8},{"t":0.202,"f":7e-8},{"t":0.202,"f":1.4e-7},{"t":0.202,"f":3.2e-7},{"t":0.202,"f":7e-7},{"t":0.202,"f":1.4e-6},{"t":0.202,"f":3.2e-6},{"t":0.202,"f":7e-6},{"t":0.202,"f":1.4e-5},{"t":0.202,"f":3.2e-5},{"t":0.202,"f":7e-5},{"t":0.202,"f":1.4e-4},{"t":0.202,"f":3.2e-4},{"t":0.202,"f":7e-4},{"t":0.202,"f":1.4e-3},{"t":0.202,"f":3.2e-3},
{"t":0.206,"f":1.2e-8},{"t":0.206,"f":2.6e-8},{"t":0.206,"f":6e-8},{"t":0.206,"f":1.2e-7},{"t":0.206,"f":2.6e-7},{"t":0.206,"f":6e-7},{"t":0.206,"f":1.2e-6},{"t":0.206,"f":2.6e-6},{"t":0.206,"f":6e-6},{"t":0.206,"f":1.2e-5},{"t":0.206,"f":2.6e-5},{"t":0.206,"f":6e-5},{"t":0.206,"f":1.2e-4},{"t":0.206,"f":2.6e-4},{"t":0.206,"f":6e-4},{"t":0.206,"f":1.2e-3},{"t":0.206,"f":2.6e-3},
{"t":0.21,"f":1.4e-8},{"t":0.21,"f":3.2e-8},{"t":0.21,"f":7e-8},{"t":0.21,"f":1.4e-7},{"t":0.21,"f":3.2e-7},{"t":0.21,"f":7e-7},{"t":0.21,"f":1.4e-6},{"t":0.21,"f":3.2e-6},{"t":0.21,"f":7e-6},{"t":0.21,"f":1.4e-5},{"t":0.21,"f":3.2e-5},{"t":0.21,"f":7e-5},{"t":0.21,"f":1.4e-4},{"t":0.21,"f":3.2e-4},{"t":0.21,"f":7e-4},{"t":0.21,"f":1.4e-3},{"t":0.21,"f":3.2e-3},
{"t":0.214,"f":1e-8},{"t":0.214,"f":2e-8},{"t":0.214,"f":5e-8},{"t":0.214,"f":1e-7},{"t":0.214,"f":2e-7},{"t":0.214,"f":5e-7},{"t":0.214,"f":1e-6},{"t":0.214,"f":2e-6},{"t":0.214,"f":5e-6},{"t":0.214,"f":1e-5},{"t":0.214,"f":2e-5},{"t":0.214,"f":5e-5},{"t":0.214,"f":1e-4},{"t":0.214,"f":2e-4},{"t":0.214,"f":5e-4},{"t":0.214,"f":1e-3},{"t":0.214,"f":2e-3},
{"t":0.218,"f":1.4e-8},{"t":0.218,"f":3.2e-8},{"t":0.218,"f":7e-8},{"t":0.218,"f":1.4e-7},{"t":0.218,"f":3.2e-7},{"t":0.218,"f":7e-7},{"t":0.218,"f":1.4e-6},{"t":0.218,"f":3.2e-6},{"t":0.218,"f":7e-6},{"t":0.218,"f":1.4e-5},{"t":0.218,"f":3.2e-5},{"t":0.218,"f":7e-5},{"t":0.218,"f":1.4e-4},{"t":0.218,"f":3.2e-4},{"t":0.218,"f":7e-4},{"t":0.218,"f":1.4e-3},{"t":0.218,"f":3.2e-3},
{"t":0.222,"f":1.2e-8},{"t":0.222,"f":2.6e-8},{"t":0.222,"f":6e-8},{"t":0.222,"f":1.2e-7},{"t":0.222,"f":2.6e-7},{"t":0.222,"f":6e-7},{"t":0.222,"f":1.2e-6},{"t":0.222,"f":2.6e-6},{"t":0.222,"f":6e-6},{"t":0.222,"f":1.2e-5},{"t":0.222,"f":2.6e-5},{"t":0.222,"f":6e-5},{"t":0.222,"f":1.2e-4},{"t":0.222,"f":2.6e-4},{"t":0.222,"f":6e-4},{"t":0.222,"f":1.2e-3},{"t":0.222,"f":2.6e-3},
{"t":0.226,"f":1.4e-8},{"t":0.226,"f":3.2e-8},{"t":0.226,"f":7e-8},{"t":0.226,"f":1.4e-7},{"t":0.226,"f":3.2e-7},{"t":0.226,"f":7e-7},{"t":0.226,"f":1.4e-6},{"t":0.226,"f":3.2e-6},{"t":0.226,"f":7e-6},{"t":0.226,"f":1.4e-5},{"t":0.226,"f":3.2e-5},{"t":0.226,"f":7e-5},{"t":0.226,"f":1.4e-4},{"t":0.226,"f":3.2e-4},{"t":0.226,"f":7e-4},{"t":0.226,"f":1.4e-3},{"t":0.226,"f":3.2e-3},
{"t":0.23,"f":1e-8},{"t":0.23,"f":2e-8},{"t":0.23,"f":5e-8},{"t":0.23,"f":1e-7},{"t":0.23,"f":2e-7},{"t":0.23,"f":5e-7},{"t":0.23,"f":1e-6},{"t":0.23,"f":2e-6},{"t":0.23,"f":5e-6},{"t":0.23,"f":1e-5},{"t":0.23,"f":2e-5},{"t":0.23,"f":5e-5},{"t":0.23,"f":1e-4},{"t":0.23,"f":2e-4},{"t":0.23,"f":5e-4},{"t":0.23,"f":1e-3},{"t":0.23,"f":2e-3},
{"t":0.234,"f":1.4e-8},{"t":0.234,"f":3.2e-8},{"t":0.234,"f":7e-8},{"t":0.234,"f":1.4e-7},{"t":0.234,"f":3.2e-7},{"t":0.234,"f":7e-7},{"t":0.234,"f":1.4e-6},{"t":0.234,"f":3.2e-6},{"t":0.234,"f":7e-6},{"t":0.234,"f":1.4e-5},{"t":0.234,"f":3.2e-5},{"t":0.234,"f":7e-5},{"t":0.234,"f":1.4e-4},{"t":0.234,"f":3.2e-4},{"t":0.234,"f":7e-4},{"t":0.234,"f":1.4e-3},{"t":0.234,"f":3.2e-3},
{"t":0.238,"f":1.2e-8},{"t":0.238,"f":2.6e-8},{"t":0.238,"f":6e-8},{"t":0.238,"f":1.2e-7},{"t":0.238,"f":2.6e-7},{"t":0.238,"f":6e-7},{"t":0.238,"f":1.2e-6},{"t":0.238,"f":2.6e-6},{"t":0.238,"f":6e-6},{"t":0.238,"f":1.2e-5},{"t":0.238,"f":2.6e-5},{"t":0.238,"f":6e-5},{"t":0.238,"f":1.2e-4},{"t":0.238,"f":2.6e-4},{"t":0.238,"f":6e-4},{"t":0.238,"f":1.2e-3},{"t":0.238,"f":2.6e-3},
{"t":0.242,"f":1.4e-8},{"t":0.242,"f":3.2e-8},{"t":0.242,"f":7e-8},{"t":0.242,"f":1.4e-7},{"t":0.242,"f":3.2e-7},{"t":0.242,"f":7e-7},{"t":0.242,"f":1.4e-6},{"t":0.242,"f":3.2e-6},{"t":0.242,"f":7e-6},{"t":0.242,"f":1.4e-5},{"t":0.242,"f":3.2e-5},{"t":0.242,"f":7e-5},{"t":0.242,"f":1.4e-4},{"t":0.242,"f":3.2e-4},{"t":0.242,"f":7e-4},{"t":0.242,"f":1.4e-3},{"t":0.242,"f":3.2e-3},
{"t":0.246,"f":1e-8},{"t":0.246,"f":2e-8},{"t":0.246,"f":5e-8},{"t":0.246,"f":1e-7},{"t":0.246,"f":2e-7},{"t":0.246,"f":5e-7},{"t":0.246,"f":1e-6},{"t":0.246,"f":2e-6},{"t":0.246,"f":5e-6},{"t":0.246,"f":1e-5},{"t":0.246,"f":2e-5},{"t":0.246,"f":5e-5},{"t":0.246,"f":1e-4},{"t":0.246,"f":2e-4},{"t":0.246,"f":5e-4},{"t":0.246,"f":1e-3},{"t":0.246,"f":2e-3},
{"t":0.25,"f":1.4e-8},{"t":0.25,"f":3.2e-8},{"t":0.25,"f":7e-8},{"t":0.25,"f":1.4e-7},{"t":0.25,"f":3.2e-7},{"t":0.25,"f":7e-7},{"t":0.25,"f":1.4e-6},{"t":0.25,"f":3.2e-6},{"t":0.25,"f":7e-6},{"t":0.25,"f":1.4e-5},{"t":0.25,"f":3.2e-5},{"t":0.25,"f":7e-5},{"t":0.25,"f":1.4e-4},{"t":0.25,"f":3.2e-4},{"t":0.25,"f":7e-4},{"t":0.25,"f":1.4e-3},{"t":0.25,"f":3.2e-3},
{"t":0.254,"f":1.2e-8},{"t":0.254,"f":2.6e-8},{"t":0.254,"f":6e-8},{"t":0.254,"f":1.2e-7},{"t":0.254,"f":2.6e-7},{"t":0.254,"f":6e-7},{"t":0.254,"f":1.2e-6},{"t":0.254,"f":2.6e-6},{"t":0.254,"f":6e-6},{"t":0.254,"f":1.2e-5},{"t":0.254,"f":2.6e-5},{"t":0.254,"f":6e-5},{"t":0.254,"f":1.2e-4},{"t":0.254,"f":2.6e-4},{"t":0.254,"f":6e-4},{"t":0.254,"f":1.2e-3},{"t":0.254,"f":2.6e-3},
{"t":0.258,"f":1.4e-8},{"t":0.258,"f":3.2e-8},{"t":0.258,"f":7e-8},{"t":0.258,"f":1.4e-7},{"t":0.258,"f":3.2e-7},{"t":0.258,"f":7e-7},{"t":0.258,"f":1.4e-6},{"t":0.258,"f":3.2e-6},{"t":0.258,"f":7e-6},{"t":0.258,"f":1.4e-5},{"t":0.258,"f":3.2e-5},{"t":0.258,"f":7e-5},{"t":0.258,"f":1.4e-4},{"t":0.258,"f":3.2e-4},{"t":0.258,"f":7e-4},{"t":0.258,"f":1.4e-3},{"t":0.258,"f":3.2e-3},
{"t":0.262,"f":1e-8},{"t":0.262,"f":2e-8},{"t":0.262,"f":5e-8},{"t":0.262,"f":1e-7},{"t":0.262,"f":2e-7},{"t":0.262,"f":5e-7},{"t":0.262,"f":1e-6},{"t":0.262,"f":2e-6},{"t":0.262,"f":5e-6},{"t":0.262,"f":1e-5},{"t":0.262,"f":2e-5},{"t":0.262,"f":5e-5},{"t":0.262,"f":1e-4},{"t":0.262,"f":2e-4},{"t":0.262,"f":5e-4},{"t":0.262,"f":1e-3},{"t":0.262,"f":2e-3},
{"t":0.266,"f":1.4e-8},{"t":0.266,"f":3.2e-8},{"t":0.266,"f":7e-8},{"t":0.266,"f":1.4e-7},{"t":0.266,"f":3.2e-7},{"t":0.266,"f":7e-7},{"t":0.266,"f":1.4e-6},{"t":0.266,"f":3.2e-6},{"t":0.266,"f":7e-6},{"t":0.266,"f":1.4e-5},{"t":0.266,"f":3.2e-5},{"t":0.266,"f":7e-5},{"t":0.266,"f":1.4e-4},{"t":0.266,"f":3.2e-4},{"t":0.266,"f":7e-4},{"t":0.266,"f":1.4e-3},{"t":0.266,"f":3.2e-3},
{"t":0.27,"f":1.2e-8},{"t":0.27,"f":2.6e-8},{"t":0.27,"f":6e-8},{"t":0.27,"f":1.2e-7},{"t":0.27,"f":2.6e-7},{"t":0.27,"f":6e-7},{"t":0.27,"f":1.2e-6},{"t":0.27,"f":2.6e-6},{"t":0.27,"f":6e-6},{"t":0.27,"f":1.2e-5},{"t":0.27,"f":2.6e-5},{"t":0.27,"f":6e-5},{"t":0.27,"f":1.2e-4},{"t":0.27,"f":2.6e-4},{"t":0.27,"f":6e-4},{"t":0.27,"f":1.2e-3},{"t":0.27,"f":2.6e-3},
{"t":0.274,"f":1.4e-8},{"t":0.274,"f":3.2e-8},{"t":0.274,"f":7e-8},{"t":0.274,"f":1.4e-7},{"t":0.274,"f":3.2e-7},{"t":0.274,"f":7e-7},{"t":0.274,"f":1.4e-6},{"t":0.274,"f":3.2e-6},{"t":0.274,"f":7e-6},{"t":0.274,"f":1.4e-5},{"t":0.274,"f":3.2e-5},{"t":0.274,"f":7e-5},{"t":0.274,"f":1.4e-4},{"t":0.274,"f":3.2e-4},{"t":0.274,"f":7e-4},{"t":0.274,"f":1.4e-3},{"t":0.274,"f":3.2e-3},
{"t":0.278,"f":1e-8},{"t":0.278,"f":2e-8},{"t":0.278,"f":5e-8},{"t":0.278,"f":1e-7},{"t":0.278,"f":2e-7},{"t":0.278,"f":5e-7},{"t":0.278,"f":1e-6},{"t":0.278,"f":2e-6},{"t":0.278,"f":5e-6},{"t":0.278,"f":1e-5},{"t":0.278,"f":2e-5},{"t":0.278,"f":5e-5},{"t":0.278,"f":1e-4},{"t":0.278,"f":2e-4},{"t":0.278,"f":5e-4},{"t":0.278,"f":1e-3},{"t":0.278,"f":2e-3}
]},
"resolve":{"axis":{"x":"independent","y":"independent"}},
"layer":[
{"data":{"name":"d"},
"mark":{"type":"point","shape":"circle","filled":true,"size":120,"stroke":"black","strokeWidth":1,"opacity":1},
"encoding":{
"x":{"field":"t","type":"quantitative","scale":{"domain":[0,0.28],"nice":false,"zero":false},
"axis":{"orient":"bottom","values":[0,0.1,0.2],"format":".1~f","domain":false,"grid":false,"tickSize":-17,"tickColor":"black","labelFontSize":54,"labelFont":"Liberation Serif","labelColor":"black","labelBaseline":"alphabetic","labelPadding":82,"labelFlush":false,"title":"t (s)","titleFont":"Liberation Serif","titleFontSize":56,"titleFontWeight":"normal","titleColor":"black","titleX":473,"titleY":113,"titleAlign":"center","titleBaseline":"alphabetic"}},
"y":{"field":"f","type":"quantitative","scale":{"type":"log","domain":[1e-8,1e9],"nice":false},
"axis":{"orient":"left","values":[1e-6,1,1e6],"labelExpr":"'10'","domain":false,"grid":false,"tickSize":-17,"tickColor":"black","labelFontSize":54,"labelFont":"Liberation Serif","labelColor":"black","labelAlign":"right","labelBaseline":"alphabetic","labelOffset":26,"labelPadding":55,"labelFlush":false,"labelOverlap":false,"title":"f","titleFont":"Liberation Serif","titleFontSize":58,"titleFontWeight":"normal","titleColor":"black","titleAngle":0,"titleAlign":"left","titleBaseline":"alphabetic","titleX":-145,"titleY":78}},
"color":{"datum":"f\u1d48","type":"nominal","scale":{"domain":["f\u1d48","f\u1d49"],"range":["#d9d9d9","#ff0000"]},
"legend":{"orient":"none","legendX":29,"legendY":24,"title":null,"padding":21,"strokeColor":"black","fillColor":"white","rowPadding":36,"symbolType":"circle","symbolSize":110,"symbolOffset":-16,"symbolStrokeWidth":1,"symbolOpacity":1,"labelOffset":9,"labelFontSize":58,"labelFont":"Liberation Serif, DejaVu Serif","labelColor":"black","labelBaseline":"middle",
"encode":{"legend":{"update":{"width":{"value":184}}},"symbols":{"update":{"stroke":{"signal":"datum.value == 'f\u1d48' ? 'black' : '#ff0000'"}}},"labels":{"update":{"dy":{"value":12}}}}}}
}},
{"data":{"name":"e"},
"mark":{"type":"circle","size":95,"opacity":1},
"encoding":{
"x":{"field":"t","type":"quantitative",
"axis":{"orient":"top","values":[0.05,0.1,0.15,0.2,0.25],"labels":false,"domain":false,"grid":false,"tickColor":"black","tickSize":{"condition":{"test":"datum.value == 0.1 || datum.value == 0.2","value":-17},"value":-8},"title":null}},
"y":{"field":"f","type":"quantitative",
"axis":{"orient":"left","values":[1e-6,2e-6,3e-6,4e-6,5e-6,6e-6,7e-6,8e-6,9e-6,1,2,3,4,5,6,7,8,9,1e6,2e6,3e6,4e6,5e6,6e6,7e6,8e6,9e6],"labelExpr":"datum.value == 1e6 ? '6' : datum.value == 1 ? '0' : datum.value == 1e-6 ? '-6' : ''","domain":false,"grid":false,"tickSize":-9,"tickColor":"black","labelFontSize":36,"labelFont":"Liberation Serif","labelColor":"black","labelAlign":"left","labelBaseline":"alphabetic","labelOffset":-4,"labelPadding":45,"labelFlush":false,"labelOverlap":false,"title":"i","titleFont":"Liberation Serif","titleFontSize":40,"titleFontWeight":"normal","titleColor":"black","titleAngle":0,"titleAlign":"left","titleBaseline":"alphabetic","titleX":-115,"titleY":41}},
"color":{"datum":"f\u1d49","type":"nominal"}
}}
]
}
